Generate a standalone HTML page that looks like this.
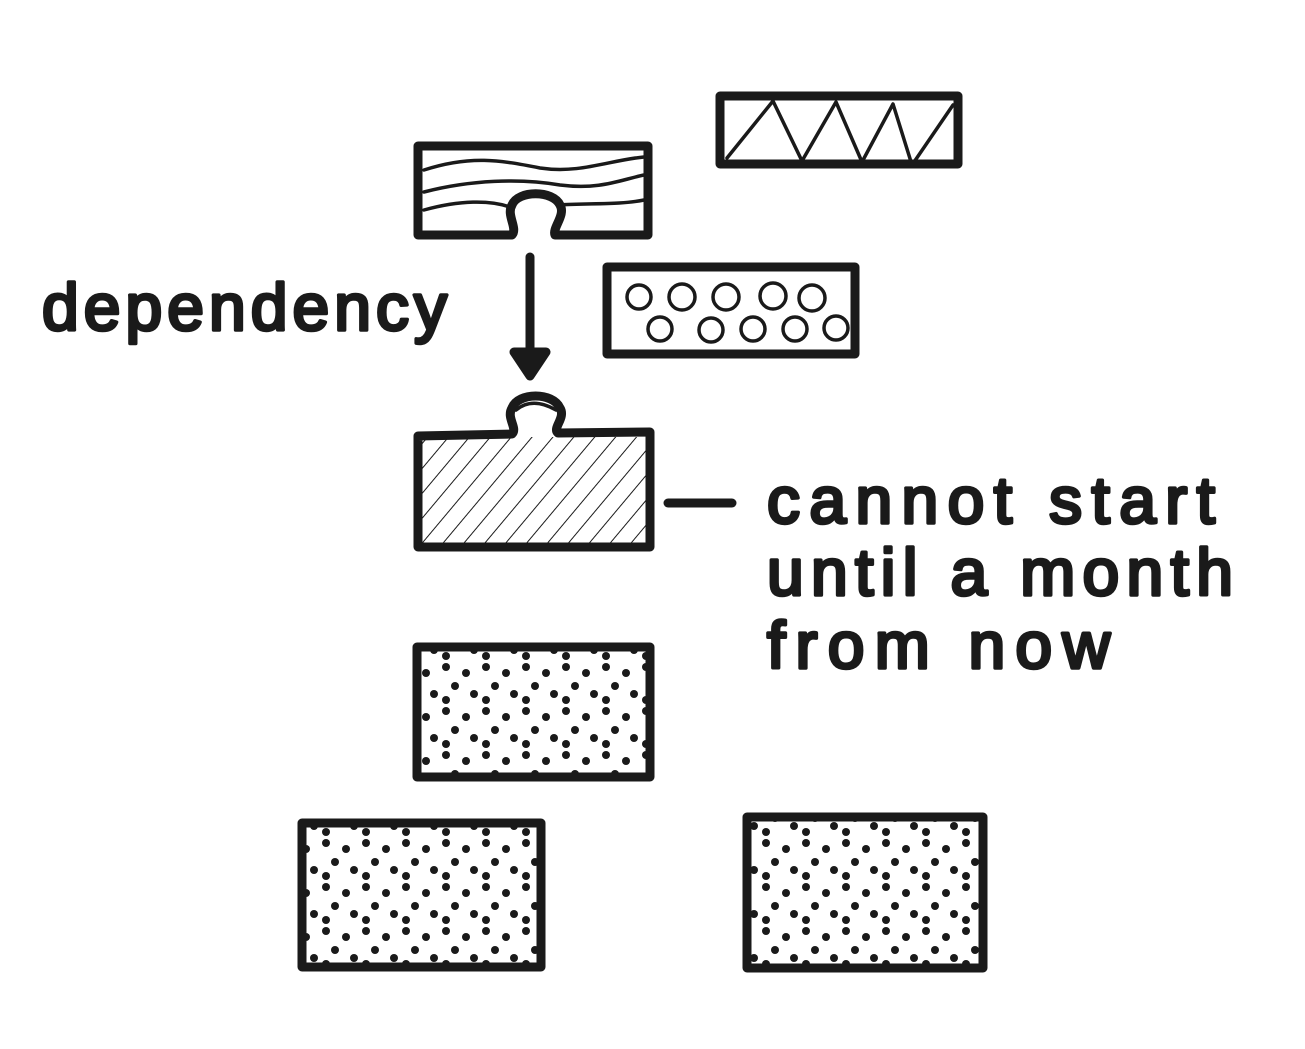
<!DOCTYPE html>
<html><head><meta charset="utf-8"><style>
html,body{margin:0;padding:0;background:#fff;}
svg{display:block}
text{font-family:"Liberation Sans",sans-serif;font-weight:normal;fill:#1a1a1a;stroke:#1a1a1a;stroke-width:3.5;stroke-linejoin:round;}
</style></head><body>
<svg width="1305" height="1049" viewBox="0 0 1305 1049" xmlns="http://www.w3.org/2000/svg">
<defs>
<pattern id="dots" width="40" height="44" patternUnits="userSpaceOnUse">
<circle cx="6" cy="7" r="4" fill="#1a1a1a"/>
<circle cx="26" cy="13" r="4" fill="#1a1a1a"/>
<circle cx="15" cy="26" r="4" fill="#1a1a1a"/>
<circle cx="34" cy="34" r="4" fill="#1a1a1a"/>
<circle cx="6" cy="40" r="4" fill="#1a1a1a"/>
</pattern>
<pattern id="hatch" width="16" height="16" patternUnits="userSpaceOnUse" patternTransform="rotate(40)">
<line x1="0" y1="0" x2="0" y2="16" stroke="#1a1a1a" stroke-width="2"/>
</pattern>
</defs>
<g fill="none" stroke="#1a1a1a" stroke-width="9" stroke-linejoin="round" stroke-linecap="round">
<rect x="720" y="96" width="238" height="68"/>
<polyline stroke-width="3.5" points="727,158 773,101 802,161 836,102 862,162 893,104 912,165 953,105"/>
<path d="M512,235 L418,235 L418,146 L648,146 L648,235 L555,235 C552,228 566,215 560,205 C553,190 518,190 512,205 C506,215 518,228 512,235"/>
<g stroke-width="3.5">
<path d="M424,170 C470,155 500,160 540,168 C580,174 610,160 644,157"/>
<path d="M424,192 C470,180 520,178 560,185 C600,190 620,180 644,175"/>
<path d="M424,210 C460,200 490,200 510,207 M558,205 C590,203 620,205 644,200"/>
</g>
<line x1="530" y1="257" x2="530" y2="372"/>
<path d="M514,352 L530,376 L546,352 Z" fill="#1a1a1a"/>
<rect x="607" y="267" width="248" height="87"/>
<g stroke-width="3.5">
<circle cx="639" cy="297" r="12"/><circle cx="682" cy="297" r="13"/><circle cx="726" cy="297" r="13"/><circle cx="773" cy="296" r="13"/><circle cx="812" cy="298" r="13"/>
<circle cx="660" cy="329" r="12"/><circle cx="711" cy="330" r="12"/><circle cx="753" cy="329" r="12"/><circle cx="795" cy="329" r="12"/><circle cx="836" cy="328" r="12"/>
</g>
<rect x="421" y="437" width="226" height="108" fill="url(#hatch)" stroke="none"/>
<path d="M512,434 L418,436 L418,547 L650,547 L650,432 L558,433 C552,428 566,418 560,408 C553,392 518,392 512,408 C506,418 518,428 512,434"/>
<path stroke-width="3.5" d="M516,410 C528,400 542,402 556,410"/>
<line x1="668" y1="503" x2="732" y2="503"/>
<rect x="417" y="647" width="233" height="130" fill="url(#dots)"/>
<rect x="302" y="823" width="239" height="144" fill="url(#dots)"/>
<rect x="747" y="817" width="236" height="151" fill="url(#dots)"/>
</g>
<text x="42" y="330" font-size="66" textLength="405" lengthAdjust="spacing">dependency</text>
<text x="767" y="523" font-size="66" textLength="448" lengthAdjust="spacing">cannot start</text>
<text x="767" y="595" font-size="66" textLength="466" lengthAdjust="spacing">until a month</text>
<text x="767" y="668" font-size="66" textLength="343" lengthAdjust="spacing">from now</text>
</svg>
</body></html>
